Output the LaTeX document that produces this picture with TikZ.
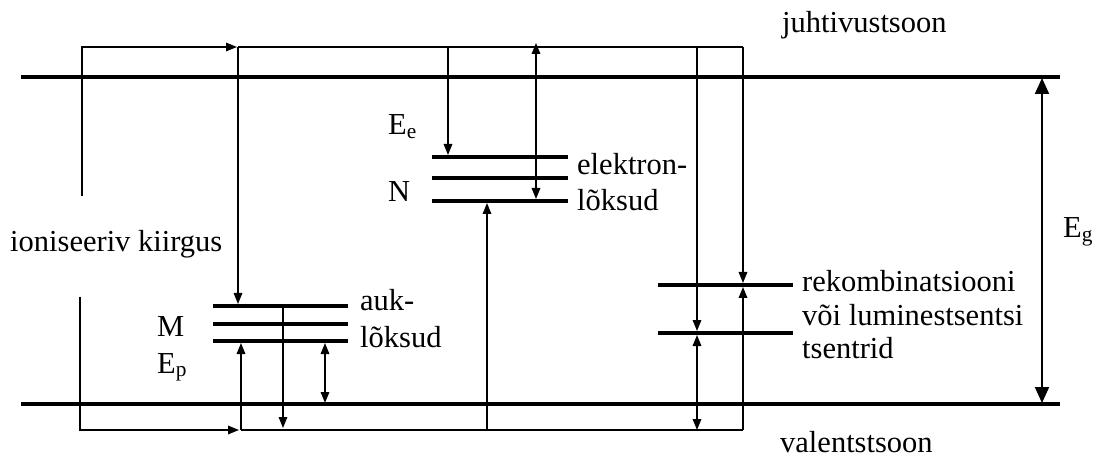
\documentclass[tikz,border=0pt]{standalone}
\usepackage{fontspec}
\setmainfont{Liberation Serif}
\usetikzlibrary{arrows.meta}
\begin{document}
\begin{tikzpicture}[x=1pt,y=-1pt,
  band/.style={line width=4.5pt},
  lvl/.style={line width=4pt},
  thin/.style={line width=1.6pt},
  ar/.style={thin,-{Triangle[length=11pt,width=8.5pt]}},
  dar/.style={thin,{Triangle[length=11pt,width=8.5pt]}-{Triangle[length=11pt,width=8.5pt]}},
  bigdar/.style={line width=2pt,{Triangle[length=16pt,width=14pt]}-{Triangle[length=16pt,width=14pt]}},
  lbl/.style={font=\fontsize{30.5}{34}\selectfont, inner sep=0pt, anchor=base west}]
\useasboundingbox (0,0) rectangle (1093,457);
% bands
\coordinate (cbL) at (21,77); \coordinate (cbR) at (1060,77);
\coordinate (vbL) at (21,404); \coordinate (vbR) at (1060,404);
\draw[band] (cbL) -- (cbR);
\draw[band] (vbL) -- (vbR);
% hole traps
\coordinate (a1L) at (213,306); \coordinate (a1R) at (348,306);
\coordinate (a2L) at (213,324); \coordinate (a2R) at (348,324);
\coordinate (a3L) at (213,341); \coordinate (a3R) at (348,341);
\draw[lvl] (a1L) -- (a1R); \draw[lvl] (a2L) -- (a2R); \draw[lvl] (a3L) -- (a3R);
% electron traps
\coordinate (e1L) at (432,157); \coordinate (e1R) at (568,157);
\coordinate (e2L) at (432,178); \coordinate (e2R) at (568,178);
\coordinate (e3L) at (432,201); \coordinate (e3R) at (568,201);
\draw[lvl] (e1L) -- (e1R); \draw[lvl] (e2L) -- (e2R); \draw[lvl] (e3L) -- (e3R);
% recombination centres
\coordinate (r1L) at (658,285); \coordinate (r1R) at (793,285);
\coordinate (r2L) at (658,333); \coordinate (r2R) at (793,333);
\draw[lvl] (r1L) -- (r1R); \draw[lvl] (r2L) -- (r2R);
% thin circuit lines
\coordinate (iu) at (82,196); \coordinate (iuT) at (237,47);
\coordinate (tL) at (238,47); \coordinate (tR) at (743,47);
\coordinate (il) at (80,297); \coordinate (ilT) at (239,430);
\coordinate (bL) at (241,430); \coordinate (bR) at (743,430);
\draw[ar] (iu) |- (iuT);
\draw[ar] (il) |- (ilT);
\draw[thin] (tL) -- (tR);
\draw[thin] (bL) -- (bR);
% arrows
\draw[ar] (tL) -- (238,304);
\draw[ar] (448,47) -- (448,155);
\draw[dar] (536,43) -- (536,199);
\draw[ar] (487,430) -- (487,203);
\draw[ar] (bL) -- (241,343);
\draw[ar] (283,306) -- (283,428);
\draw[dar] (325,343) -- (325,403);
\draw[ar] (tR) -- (743,283);
\draw[ar] (bR) -- (743,287);
\draw[ar] (697,47) -- (697,331);
\draw[dar] (697,335) -- (697,430);
\draw[bigdar] (1042,78) -- (1042,403);
% labels
\node[lbl] (lj) at (782,33) {juhtivustsoon};
\node[lbl] (lv) at (780,452) {valentstsoon};
\node[lbl] (li) at (10,252) {ioniseeriv kiirgus};
\node[lbl] (lee) at (388,135) {E\textsubscript{e}};
\node[lbl] (ln) at (388,202) {N};
\node[lbl] (lel1) at (577,175) {elektron-};
\node[lbl] (lel2) at (577,211) {lõksud};
\node[lbl] (lm) at (157,337) {M};
\node[lbl] (lep) at (157,373) {E\textsubscript{p}};
\node[lbl] (la1) at (360,310) {auk-};
\node[lbl] (la2) at (360,347) {lõksud};
\node[lbl] (lr1) at (802,292) {rekombinatsiooni};
\node[lbl] (lr2) at (802,325) {või luminestsentsi};
\node[lbl] (lr3) at (802,358) {tsentrid};
\node[lbl] (leg) at (1063,238) {E\textsubscript{g}};
\end{tikzpicture}
\end{document}
